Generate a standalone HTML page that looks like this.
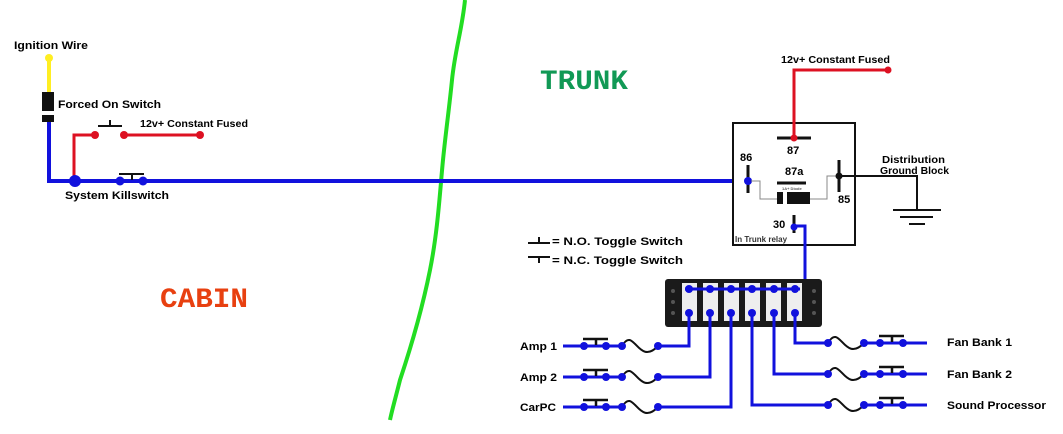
<!DOCTYPE html>
<html><head><style>body{margin:0;background:#fff}svg{display:block}text{font-family:"Liberation Sans",sans-serif;font-weight:bold}</style></head><body>
<svg width="1063" height="434" viewBox="0 0 1063 434" xmlns="http://www.w3.org/2000/svg">
<rect width="1063" height="434" fill="#fff"/>
<path d="M465,0 C462,30 455,50 452,80 C449,110 446,130 443,160 C440,190 438,230 430,270 C422,310 410,350 400,380 C395,400 392,410 390,420" fill="none" stroke="#22dd22" stroke-width="4"/>
<text x="540" y="89" font-size="28" fill="#119955" style="font-family:'Liberation Mono',monospace" textLength="88" lengthAdjust="spacingAndGlyphs">TRUNK</text>
<text x="160" y="307" font-size="28" fill="#e84010" style="font-family:'Liberation Mono',monospace" textLength="88" lengthAdjust="spacingAndGlyphs">CABIN</text>
<text x="14" y="49" font-size="11" textLength="74" lengthAdjust="spacingAndGlyphs">Ignition Wire</text>
<line x1="49" y1="56" x2="49" y2="92" stroke="#ffee22" stroke-width="4"/>
<circle cx="49" cy="58" r="4" fill="#ffee22"/>
<rect x="42" y="92" width="12" height="30" fill="#111"/>
<rect x="42" y="111" width="12" height="4" fill="#fff"/>
<text x="58" y="108" font-size="11" textLength="103" lengthAdjust="spacingAndGlyphs">Forced On Switch</text>
<path d="M49,122 V181 H745" fill="none" stroke="#1111dd" stroke-width="4"/>
<path d="M74,181 V135 H95" fill="none" stroke="#dd1122" stroke-width="3"/>
<line x1="124" y1="135" x2="200" y2="135" stroke="#dd1122" stroke-width="3"/>
<circle cx="95" cy="135" r="4" fill="#dd1122"/><circle cx="124" cy="135" r="4" fill="#dd1122"/><circle cx="200" cy="135" r="4" fill="#dd1122"/>
<path d="M98,126 H122 M110,126 V120" stroke="#111" stroke-width="2"/>
<text x="140" y="127" font-size="10.5" textLength="108" lengthAdjust="spacingAndGlyphs">12v+ Constant Fused</text>
<circle cx="75" cy="181" r="6" fill="#1111dd"/><circle cx="120" cy="181" r="4.5" fill="#1111dd"/><circle cx="143" cy="181" r="4.5" fill="#1111dd"/>
<path d="M119,174 H144 M132,174 V180" stroke="#111" stroke-width="2"/>
<text x="65" y="199" font-size="11" textLength="104" lengthAdjust="spacingAndGlyphs">System Killswitch</text>
<rect x="733" y="123" width="122" height="122" fill="#fff" stroke="#111" stroke-width="2"/>
<path d="M794,138 V70 H888" fill="none" stroke="#dd1122" stroke-width="3"/>
<circle cx="888" cy="70" r="3.5" fill="#dd1122"/>
<text x="781" y="63" font-size="10.5" textLength="109" lengthAdjust="spacingAndGlyphs">12v+ Constant Fused</text>
<line x1="777" y1="138" x2="811" y2="138" stroke="#111" stroke-width="3"/>
<circle cx="794" cy="138" r="3.5" fill="#dd1122"/>
<text x="787" y="154" font-size="11">87</text>
<text x="740" y="161" font-size="11">86</text>
<line x1="748" y1="165" x2="748" y2="193" stroke="#111" stroke-width="3"/>
<circle cx="748" cy="181" r="4" fill="#1111dd"/>
<text x="785" y="175" font-size="11">87a</text>
<line x1="777" y1="183" x2="806" y2="183" stroke="#111" stroke-width="3"/>
<path d="M751,181 H760 V199 H810 M810,199 H827 V176 H837" fill="none" stroke="#888" stroke-width="1"/>
<rect x="777" y="192" width="33" height="12" fill="#111"/><rect x="783" y="192" width="4" height="12" fill="#fff"/>
<text x="782" y="190" font-size="4" font-weight="normal" fill="#555">1A+ Diode</text>
<line x1="839" y1="160" x2="839" y2="192" stroke="#111" stroke-width="3"/>
<circle cx="839" cy="176" r="3.5" fill="#111"/>
<path d="M839,176 H917 V210" fill="none" stroke="#111" stroke-width="2"/>
<path d="M893,210 H941 M900,217 H933 M909,224 H925" stroke="#111" stroke-width="2"/>
<text x="882" y="163" font-size="10.5" textLength="63" lengthAdjust="spacingAndGlyphs">Distribution</text>
<text x="880" y="174" font-size="10.5" textLength="69" lengthAdjust="spacingAndGlyphs">Ground Block</text>
<text x="838" y="203" font-size="11">85</text>
<text x="773" y="228" font-size="11">30</text>
<line x1="794" y1="215" x2="794" y2="233" stroke="#111" stroke-width="3"/>
<path d="M794,226 H805 V289" fill="none" stroke="#1111dd" stroke-width="3"/>
<circle cx="794" cy="227" r="3.5" fill="#1111dd"/>
<text x="735" y="242" font-size="8" font-weight="normal" fill="#333">In Trunk relay</text>
<path d="M528,243 H550 M539,243 V237" stroke="#111" stroke-width="2"/>
<text x="552" y="245" font-size="11" font-weight="normal" textLength="131" lengthAdjust="spacingAndGlyphs">= N.O. Toggle Switch</text>
<path d="M528,257 H550 M539,257 V263" stroke="#111" stroke-width="2"/>
<text x="552" y="264" font-size="11" font-weight="normal" textLength="131" lengthAdjust="spacingAndGlyphs">= N.C. Toggle Switch</text>
<rect x="665" y="279" width="157" height="48" rx="3" fill="#1a1a1a"/>
<g fill="#555"><circle cx="673" cy="291" r="2"/><circle cx="673" cy="302" r="2"/><circle cx="673" cy="313" r="2"/><circle cx="814" cy="291" r="2"/><circle cx="814" cy="302" r="2"/><circle cx="814" cy="313" r="2"/></g>
<g fill="#eee">
<rect x="682" y="283" width="15" height="38"/><rect x="703" y="283" width="15" height="38"/><rect x="724" y="283" width="15" height="38"/><rect x="745" y="283" width="15" height="38"/><rect x="766" y="283" width="15" height="38"/><rect x="787" y="283" width="15" height="38"/>
</g>
<line x1="685" y1="289" x2="800" y2="289" stroke="#1111dd" stroke-width="3"/>
<g fill="#1111dd">
<circle cx="689" cy="289" r="4"/><circle cx="710" cy="289" r="4"/><circle cx="731" cy="289" r="4"/><circle cx="752" cy="289" r="4"/><circle cx="774" cy="289" r="4"/><circle cx="795" cy="289" r="4"/>
<circle cx="689" cy="313" r="4"/><circle cx="710" cy="313" r="4"/><circle cx="731" cy="313" r="4"/><circle cx="752" cy="313" r="4"/><circle cx="774" cy="313" r="4"/><circle cx="795" cy="313" r="4"/>
</g>
<g fill="none" stroke-width="3">
<path d="M563,346 H622 M658,346 H689 V313" stroke="#1111dd"/>
<path d="M563,377 H622 M658,377 H710 V313" stroke="#1111dd"/>
<path d="M563,407 H622 M658,407 H731 V313" stroke="#1111dd"/>
<path d="M622,346 C634,325 638,367 658,346" stroke="#111" stroke-width="2"/>
<path d="M622,377 C634,356 638,398 658,377" stroke="#111" stroke-width="2"/>
<path d="M622,407 C634,386 638,428 658,407" stroke="#111" stroke-width="2"/>
<path d="M795,313 V343 H828 M864,343 H927" stroke="#1111dd"/>
<path d="M774,313 V374 H828 M864,374 H927" stroke="#1111dd"/>
<path d="M752,313 V405 H828 M864,405 H927" stroke="#1111dd"/>
<path d="M828,343 C840,322 844,364 864,343" stroke="#111" stroke-width="2"/>
<path d="M828,374 C840,353 844,395 864,374" stroke="#111" stroke-width="2"/>
<path d="M828,405 C840,384 844,426 864,405" stroke="#111" stroke-width="2"/>
</g>
<g stroke="#111" stroke-width="2.5">
<path d="M583,339 H608 M596,339 V345"/><path d="M583,370 H608 M596,370 V376"/><path d="M583,400 H608 M596,400 V406"/>
<path d="M879,336 H904 M892,336 V342"/><path d="M879,367 H904 M892,367 V373"/><path d="M879,398 H904 M892,398 V404"/>
</g>
<g fill="#1111dd">
<circle cx="584" cy="346" r="4"/><circle cx="606" cy="346" r="4"/><circle cx="622" cy="346" r="4"/><circle cx="658" cy="346" r="4"/>
<circle cx="584" cy="377" r="4"/><circle cx="606" cy="377" r="4"/><circle cx="622" cy="377" r="4"/><circle cx="658" cy="377" r="4"/>
<circle cx="584" cy="407" r="4"/><circle cx="606" cy="407" r="4"/><circle cx="622" cy="407" r="4"/><circle cx="658" cy="407" r="4"/>
<circle cx="828" cy="343" r="4"/><circle cx="864" cy="343" r="4"/><circle cx="880" cy="343" r="4"/><circle cx="903" cy="343" r="4"/>
<circle cx="828" cy="374" r="4"/><circle cx="864" cy="374" r="4"/><circle cx="880" cy="374" r="4"/><circle cx="903" cy="374" r="4"/>
<circle cx="828" cy="405" r="4"/><circle cx="864" cy="405" r="4"/><circle cx="880" cy="405" r="4"/><circle cx="903" cy="405" r="4"/>
</g>
<text x="520" y="350" font-size="11" textLength="37" lengthAdjust="spacingAndGlyphs">Amp 1</text>
<text x="520" y="381" font-size="11" textLength="37" lengthAdjust="spacingAndGlyphs">Amp 2</text>
<text x="520" y="411" font-size="11" textLength="36" lengthAdjust="spacingAndGlyphs">CarPC</text>
<text x="947" y="346" font-size="11" textLength="65" lengthAdjust="spacingAndGlyphs">Fan Bank 1</text>
<text x="947" y="378" font-size="11" textLength="65" lengthAdjust="spacingAndGlyphs">Fan Bank 2</text>
<text x="947" y="409" font-size="11" textLength="99" lengthAdjust="spacingAndGlyphs">Sound Processor</text>
</svg>
</body></html>
